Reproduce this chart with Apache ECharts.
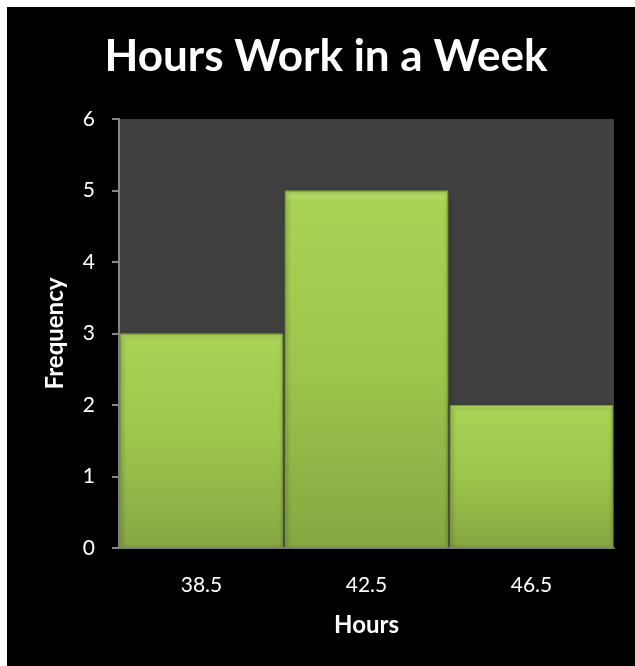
<!DOCTYPE html>
<html>
<head>
<meta charset="utf-8">
<script src="https://cdn.jsdelivr.net/npm/echarts@6/dist/echarts.min.js"></script>
<style>
  html, body { margin: 0; padding: 0; background: #ffffff; }
  #chart { position: absolute; left: 7px; top: 7px; width: 628px; height: 659px; background: #000000; }
</style>
</head>
<body>
<div id="chart"></div>
<script>
// 分类（小时）
const hours = ['38.5', '42.5', '46.5']
// 频数
const frequency = [3, 5, 2]

const textColor = '#ffffff'
const axisColor = '#868686'
const fontFamily = 'Lato, "Open Sans", sans-serif'

let myChart = echarts.init(document.getElementById('chart'))
let option = {
  backgroundColor: '#000000',
  title: {
    text: 'Hours Work in a Week',
    left: 314,
    top: 23,
    textAlign: 'center',
    textStyle: {
      color: textColor,
      fontSize: 44,
      fontWeight: 'bold',
      fontFamily: fontFamily
    }
  },
  grid: {
    left: 112,
    top: 112,
    width: 495,
    height: 429,
    show: true,
    backgroundColor: '#404040',
    borderWidth: 0
  },
  xAxis: {
    type: 'category',
    data: hours,
    name: 'Hours',
    nameLocation: 'middle',
    nameGap: 65,
    nameTextStyle: { color: textColor, fontSize: 24, fontWeight: 'bold', fontFamily: fontFamily },
    axisLine: { lineStyle: { color: axisColor, width: 2 } },
    axisTick: { show: false },
    axisLabel: { color: textColor, fontSize: 21, fontFamily: fontFamily, margin: 27 }
  },
  yAxis: {
    type: 'value',
    min: 0,
    max: 6,
    interval: 1,
    name: 'Frequency',
    nameLocation: 'middle',
    nameRotate: 90,
    nameGap: 52,
    nameTextStyle: { color: textColor, fontSize: 24, fontWeight: 'bold', fontFamily: fontFamily },
    axisLine: { show: true, lineStyle: { color: axisColor, width: 2 } },
    axisTick: { show: true, inside: false, length: 7, lineStyle: { color: axisColor, width: 2 } },
    splitLine: { show: false },
    axisLabel: { color: textColor, fontSize: 21, fontFamily: fontFamily, margin: 24 }
  },
  series: [
    {
      type: 'bar',
      data: frequency,
      barCategoryGap: '1%',
      itemStyle: {
        color: new echarts.graphic.LinearGradient(0, 0, 0, 1, [
          { offset: 0, color: '#c4e870' },
          { offset: 0.03, color: '#a9d355' },
          { offset: 0.5, color: '#9cc64c' },
          { offset: 1, color: '#86a743' }
        ]),
        borderColor: '#7a963b',
        borderWidth: 1,
        shadowColor: 'rgba(0,0,0,0.5)',
        shadowBlur: 4,
        shadowOffsetX: 1,
        shadowOffsetY: 1
      }
    }
  ]
}
option && myChart.setOption(option)
</script>
</body>
</html>
